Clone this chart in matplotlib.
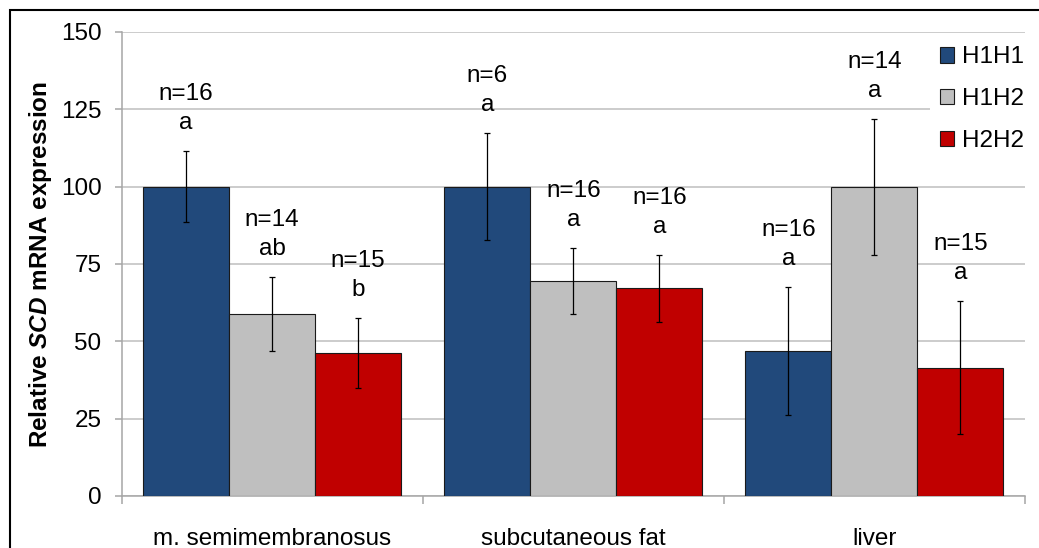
import matplotlib
matplotlib.use('Agg')
import matplotlib.pyplot as plt
import numpy as np
from matplotlib.patches import Rectangle

plt.rcParams['font.family'] = 'Liberation Sans'
plt.rcParams['mathtext.fontset'] = 'custom'
plt.rcParams['mathtext.rm'] = 'Liberation Sans'
plt.rcParams['mathtext.bf'] = 'Liberation Sans:bold'
plt.rcParams['mathtext.bfit'] = 'Liberation Sans:italic:bold'

tissues = ['m. semimembranosus', 'subcutaneous fat', 'liver']
genotypes = ['H1H1', 'H1H2', 'H2H2']
colors = ['#21497B', '#BFBFBF', '#C00000']

# mean relative expression per genotype, one value per tissue
h1h1 = [100, 100, 46.9]
h1h2 = [58.8, 69.6, 100]
h2h2 = [46.2, 67.2, 41.4]
# error bar half widths
h1h1_err = [11.5, 17.4, 20.8]
h1h2_err = [11.9, 10.7, 22.0]
h2h2_err = [11.2, 10.8, 21.5]
# sample sizes and significance letters
h1h1_n = [16, 6, 16]
h1h2_n = [14, 16, 14]
h2h2_n = [15, 16, 15]
h1h1_sig = ['a', 'a', 'a']
h1h2_sig = ['ab', 'a', 'a']
h2h2_sig = ['b', 'a', 'a']

means = [h1h1, h1h2, h2h2]
errs = [h1h1_err, h1h2_err, h2h2_err]
ns = [h1h1_n, h1h2_n, h2h2_n]
sigs = [h1h1_sig, h1h2_sig, h2h2_sig]

fig = plt.figure(figsize=(10.39, 5.48), dpi=100)
ax = fig.add_axes([121.5 / 1039, 52 / 548, 903.5 / 1039, 464 / 548])

fs = 17.5
x = np.arange(len(tissues))
w = 1 / 3.5
for j, g in enumerate(genotypes):
    pos = x + (j - 1) * w
    ax.bar(pos, means[j], width=w, color=colors[j], edgecolor='#1a1a1a',
           linewidth=0.8, label=g, zorder=3)
    ax.errorbar(pos, means[j], yerr=errs[j], fmt='none', ecolor='black',
                elinewidth=0.9, capsize=2.2, capthick=0.9, zorder=4)
    for k in range(len(tissues)):
        top = means[j][k] + errs[j][k]
        ax.annotate(sigs[j][k], (pos[k], top), xytext=(0, 22),
                    textcoords='offset pixels', ha='center', va='baseline',
                    fontsize=fs)
        ax.annotate('n=%d' % ns[j][k], (pos[k], top), xytext=(0, 51),
                    textcoords='offset pixels', ha='center', va='baseline',
                    fontsize=fs)

ax.set_xlim(-0.5, 2.5)
ax.set_ylim(0, 150)
ax.set_yticks(np.arange(0, 151, 25))
ax.yaxis.grid(True, color='#BEBEBE', linewidth=1.1, zorder=0)
ax.set_axisbelow(True)

ax.set_xticks(x)
ax.set_xticklabels(tissues)
ax.set_xticks(np.arange(-0.5, 3, 1), minor=True)
ax.tick_params(axis='x', which='major', length=0, pad=23, labelsize=fs)
ax.tick_params(axis='x', which='minor', length=6, width=1.1, color='#A6A6A6')
ax.tick_params(axis='y', length=5.4, width=1.1, color='#A6A6A6', pad=9,
               labelsize=fs)

for s in ['top', 'right']:
    ax.spines[s].set_visible(False)
for s in ['left', 'bottom']:
    ax.spines[s].set_color('#A6A6A6')
    ax.spines[s].set_linewidth(1.1)

ax.set_ylabel(r'Relative $\mathbfit{SCD}$ mRNA expression', fontsize=17.5,
              fontweight='bold', labelpad=5)

leg = ax.legend(loc='upper left', bbox_to_anchor=(0.895, 0.99),
                borderaxespad=0, frameon=True, fancybox=False,
                edgecolor='none', facecolor='white', framealpha=1,
                fontsize=fs, handlelength=0.6, handleheight=0.6,
                handletextpad=0.3, labelspacing=0.82, borderpad=0.4)

fig.add_artist(Rectangle((10 / 1039, -0.1), 1.2, 1.1 - 10 / 548,
                         transform=fig.transFigure, fill=False,
                         edgecolor='black', linewidth=1.5, clip_on=False))

fig.savefig('out.png', dpi=100)
